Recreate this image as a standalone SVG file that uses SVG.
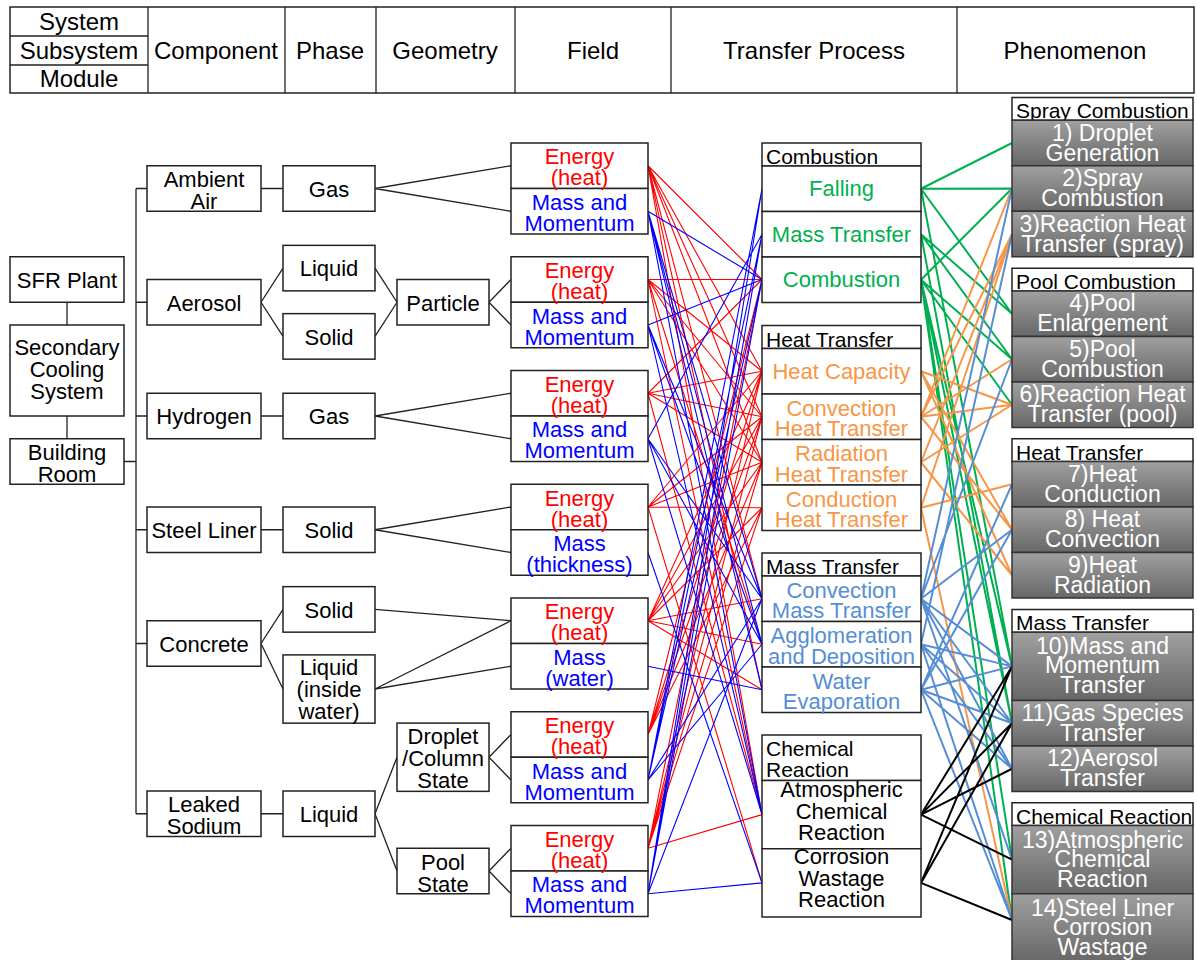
<svg xmlns="http://www.w3.org/2000/svg" width="1197" height="960" viewBox="0 0 1197 960">
<style>
.b{fill:#fff;stroke:#222;stroke-width:1.5}
.ph{fill:url(#g);stroke:#333;stroke-width:1.5}
text{font-family:"Liberation Sans",Arial,sans-serif;font-size:22px;text-anchor:middle;fill:#000}
.h{font-size:24px}
.ti{font-size:21px;text-anchor:start}
.pt{font-size:23px;fill:#fff}
.red{fill:#f00}.blu{fill:#00f}.grn{fill:#00b050}.org{fill:#f79646}.lb{fill:#558ed5}
.tr{stroke:#222;stroke-width:1.3;fill:none}
.lr{stroke:#f00;stroke-width:1.1;fill:none}
.lu{stroke:#00f;stroke-width:1.1;fill:none}
.lg{stroke:#00b050;stroke-width:2;fill:none}
.lo{stroke:#f79646;stroke-width:2;fill:none}
.lc{stroke:#558ed5;stroke-width:2;fill:none}
.lk{stroke:#000;stroke-width:2;fill:none}
</style>
<defs>
<linearGradient id="g" x1="0" y1="0" x2="0" y2="1"><stop offset="0" stop-color="#a0a0a0"/><stop offset="1" stop-color="#676767"/></linearGradient>
</defs>
<rect width="1197" height="960" fill="#fff"/>

<g id="header">
<rect class="b" x="10" y="7" width="1184" height="86"/>
<path class="tr" d="M148 7V93M285 7V93M376 7V93M515 7V93M671 7V93M957 7V93M10 36H148M10 65H148"/>
<text class="h" x="79" y="30">System</text>
<text class="h" x="79" y="59">Subsystem</text>
<text class="h" x="79" y="87">Module</text>
<text class="h" x="216" y="58.5">Component</text>
<text class="h" x="330" y="58.5">Phase</text>
<text class="h" x="445" y="58.5">Geometry</text>
<text class="h" x="593" y="58.5">Field</text>
<text class="h" x="814" y="58.5">Transfer Process</text>
<text class="h" x="1075" y="58.5">Phenomenon</text>
</g>

<g id="connectors">
<path class="tr" d="M67 302.25V325M67 416V438.75M124 461.5H136M136 188.5V813.75M136 188.5H147M136 302.25H147M136 416H147M136 529.75H147M136 643.5H147M136 813.75H147
M261 188.5H283M261 416H283M261 529.75H283M261 813.75H283
M261 302.25L283 268.1M261 302.25L283 336.4M375 268.1L397 302.25M375 336.4L397 302.25
M261 643.5L283 609.4M261 643.5L283 689M375 813.75L397 757.25M375 813.75L397 871
M375 188.5L511 165.75M375 188.5L511 211.25M489 302.25L511 279.5M489 302.25L511 325
M375 416L511 393.25M375 416L511 438.75M375 529.75L511 507M375 529.75L511 552.5
M375 609.4L511 620.75M375 689L511 620.75M375 689L511 666.25
M489 757.25L511 734.5M489 757.25L511 780M489 871L511 848.25M489 871L511 893.75"/>
<path class="lr" d="M648 165.75L762 279.5M648 165.75L762 371.25M648 165.75L762 416.75M648 165.75L762 462.25M648 165.75L762 598.75M648 165.75L762 689.75M648 165.75L762 814.6
M648 279.5L762 279.5M648 279.5L762 371.25M648 279.5L762 416.75M648 279.5L762 462.25M648 279.5L762 644.25M648 279.5L762 814.6
M648 393.25L762 279.5M648 393.25L762 371.25M648 393.25L762 416.75M648 393.25L762 462.25M648 393.25L762 814.6
M648 507L762 371.25M648 507L762 416.75M648 507L762 462.25M648 507L762 507.75M648 507L762 882.9
M648 620.75L762 371.25M648 620.75L762 416.75M648 620.75L762 462.25M648 620.75L762 507.75M648 620.75L762 598.75M648 620.75L762 644.25M648 620.75L762 689.75
M648 734.5L762 279.5M648 734.5L762 371.25M648 734.5L762 416.75M648 734.5L762 462.25M648 734.5L762 507.75
M648 848.25L762 279.5M648 848.25L762 371.25M648 848.25L762 416.75M648 848.25L762 462.25M648 848.25L762 507.75M648 848.25L762 814.6"/>
<path class="lu" d="M648 211.25L762 279.5M648 211.25L762 598.75M648 211.25L762 644.25M648 211.25L762 689.75M648 211.25L762 814.6
M648 325L762 279.5M648 325L762 598.75M648 325L762 644.25M648 325L762 814.6
M648 438.75L762 234.25M648 438.75L762 598.75M648 438.75L762 644.25M648 438.75L762 814.6
M648 552.5L762 882.9M648 666.25L762 689.75
M648 780L762 188.75M648 780L762 234.25M648 780L762 279.5M648 780L762 598.75M648 780L762 644.25
M648 893.75L762 188.75M648 893.75L762 234.25M648 893.75L762 279.5M648 893.75L762 598.75M648 893.75L762 882.9"/>
<path class="lg" d="M921 188.75L1012 143M921 188.75L1012 188.5M921 188.75L1012 313.75M921 188.75L1012 666.4
M921 234.25L1012 313.75M921 234.25L1012 359.25M921 234.25L1012 723.25
M921 279.75L1012 188.5M921 279.75L1012 359.25M921 279.75L1012 404.75M921 279.75L1012 666.4M921 279.75L1012 723.25M921 279.75L1012 859.6M921 279.75L1012 920"/>
<path class="lo" d="M921 371.25L1012 404.75M921 371.25L1012 529.75M921 371.25L1012 575.25
M921 416.75L1012 188.5M921 416.75L1012 234M921 416.75L1012 359.25M921 416.75L1012 404.75M921 416.75L1012 529.75
M921 462.25L1012 234M921 462.25L1012 404.75M921 462.25L1012 575.25
M921 507.75L1012 234M921 507.75L1012 484.25M921 507.75L1012 920"/>
<path class="lc" d="M921 598.75L1012 188.5M921 598.75L1012 359.25M921 598.75L1012 529.75M921 598.75L1012 666.4M921 598.75L1012 723.25M921 598.75L1012 768.75M921 598.75L1012 859.6
M921 644.25L1012 234M921 644.25L1012 666.4M921 644.25L1012 723.25M921 644.25L1012 768.75M921 644.25L1012 920
M921 689.75L1012 484.25M921 689.75L1012 529.75M921 689.75L1012 666.4M921 689.75L1012 723.25M921 689.75L1012 768.75M921 689.75L1012 920"/>
<path class="lk" d="M921 814.6L1012 666.4M921 814.6L1012 723.25M921 814.6L1012 768.75M921 814.6L1012 859.6
M921 882.9L1012 666.4M921 882.9L1012 723.25M921 882.9L1012 920"/>
</g>

<g id="sfr-plant"><rect class="b" x="10" y="256.75" width="114" height="45.5"/><text x="67" y="288">SFR Plant</text></g>
<g id="secondary-cooling"><rect class="b" x="10" y="325" width="114" height="91"/><text x="67" y="355">Secondary</text><text x="67" y="377">Cooling</text><text x="67" y="399">System</text></g>
<g id="building-room"><rect class="b" x="10" y="438.75" width="114" height="45.5"/><text x="67" y="460">Building</text><text x="67" y="481.5">Room</text></g>

<g id="ambient-air"><rect class="b" x="147" y="165.75" width="114" height="45.5"/><text x="204" y="187">Ambient</text><text x="204" y="209">Air</text></g>
<g id="aerosol"><rect class="b" x="147" y="279.5" width="114" height="45.5"/><text x="204" y="310.5">Aerosol</text></g>
<g id="hydrogen"><rect class="b" x="147" y="393.25" width="114" height="45.5"/><text x="204" y="424">Hydrogen</text></g>
<g id="steel-liner"><rect class="b" x="147" y="507" width="114" height="45.5"/><text x="204" y="538">Steel Liner</text></g>
<g id="concrete"><rect class="b" x="147" y="620.75" width="114" height="45.5"/><text x="204" y="651.5">Concrete</text></g>
<g id="leaked-sodium"><rect class="b" x="147" y="791" width="114" height="45.5"/><text x="204" y="812">Leaked</text><text x="204" y="834">Sodium</text></g>

<g id="gas-air"><rect class="b" x="283" y="165.75" width="92" height="45.5"/><text x="329" y="196.5">Gas</text></g>
<g id="liquid-aerosol"><rect class="b" x="283" y="245.35" width="92" height="45.5"/><text x="329" y="276">Liquid</text></g>
<g id="solid-aerosol"><rect class="b" x="283" y="313.65" width="92" height="45.5"/><text x="329" y="344.5">Solid</text></g>
<g id="gas-hydrogen"><rect class="b" x="283" y="393.25" width="92" height="45.5"/><text x="329" y="424">Gas</text></g>
<g id="solid-steel"><rect class="b" x="283" y="507" width="92" height="45.5"/><text x="329" y="538">Solid</text></g>
<g id="solid-concrete"><rect class="b" x="283" y="586.65" width="92" height="45.5"/><text x="329" y="617.5">Solid</text></g>
<g id="liquid-water"><rect class="b" x="283" y="654.9" width="92" height="68.25"/><text x="329" y="675">Liquid</text><text x="329" y="697">(inside</text><text x="329" y="719">water)</text></g>
<g id="liquid-sodium"><rect class="b" x="283" y="791" width="92" height="45.5"/><text x="329" y="822">Liquid</text></g>

<g id="particle"><rect class="b" x="397" y="279.5" width="92" height="45.5"/><text x="443" y="310.5">Particle</text></g>
<g id="droplet-state"><rect class="b" x="397" y="723.1" width="92" height="68.25"/><text x="443" y="744">Droplet</text><text x="443" y="766">/Column</text><text x="443" y="788">State</text></g>
<g id="pool-state"><rect class="b" x="397" y="848.25" width="92" height="45.5"/><text x="443" y="869.5">Pool</text><text x="443" y="891.5">State</text></g>

<g id="field-air"><rect class="b" x="511" y="143" width="137" height="45.5"/><rect class="b" x="511" y="188.5" width="137" height="45.5"/><text class="red" x="579.5" y="164.25">Energy</text><text class="red" x="579.5" y="185.25">(heat)</text><text class="blu" x="579.5" y="209.75">Mass and</text><text class="blu" x="579.5" y="230.75">Momentum</text></g>
<g id="field-aerosol"><rect class="b" x="511" y="256.75" width="137" height="45.5"/><rect class="b" x="511" y="302.25" width="137" height="45.5"/><text class="red" x="579.5" y="278">Energy</text><text class="red" x="579.5" y="299">(heat)</text><text class="blu" x="579.5" y="323.5">Mass and</text><text class="blu" x="579.5" y="344.5">Momentum</text></g>
<g id="field-hydrogen"><rect class="b" x="511" y="370.5" width="137" height="45.5"/><rect class="b" x="511" y="416" width="137" height="45.5"/><text class="red" x="579.5" y="391.75">Energy</text><text class="red" x="579.5" y="412.75">(heat)</text><text class="blu" x="579.5" y="437.25">Mass and</text><text class="blu" x="579.5" y="458.25">Momentum</text></g>
<g id="field-steel"><rect class="b" x="511" y="484.25" width="137" height="45.5"/><rect class="b" x="511" y="529.75" width="137" height="45.5"/><text class="red" x="579.5" y="505.5">Energy</text><text class="red" x="579.5" y="526.5">(heat)</text><text class="blu" x="579.5" y="551">Mass</text><text class="blu" x="579.5" y="572">(thickness)</text></g>
<g id="field-concrete"><rect class="b" x="511" y="598" width="137" height="45.5"/><rect class="b" x="511" y="643.5" width="137" height="45.5"/><text class="red" x="579.5" y="619.25">Energy</text><text class="red" x="579.5" y="640.25">(heat)</text><text class="blu" x="579.5" y="664.75">Mass</text><text class="blu" x="579.5" y="685.75">(water)</text></g>
<g id="field-droplet"><rect class="b" x="511" y="711.75" width="137" height="45.5"/><rect class="b" x="511" y="757.25" width="137" height="45.5"/><text class="red" x="579.5" y="733">Energy</text><text class="red" x="579.5" y="754">(heat)</text><text class="blu" x="579.5" y="778.5">Mass and</text><text class="blu" x="579.5" y="799.5">Momentum</text></g>
<g id="field-pool"><rect class="b" x="511" y="825.5" width="137" height="45.5"/><rect class="b" x="511" y="871" width="137" height="45.5"/><text class="red" x="579.5" y="846.75">Energy</text><text class="red" x="579.5" y="867.75">(heat)</text><text class="blu" x="579.5" y="892.25">Mass and</text><text class="blu" x="579.5" y="913.25">Momentum</text></g>

<g id="tp-combustion">
<rect class="b" x="762" y="143" width="159" height="23"/><text class="ti" x="766" y="164">Combustion</text>
<rect class="b" x="762" y="166" width="159" height="45.5"/><text class="grn" x="841.5" y="196">Falling</text>
<rect class="b" x="762" y="211.5" width="159" height="45.5"/><text class="grn" x="841.5" y="241.5">Mass Transfer</text>
<rect class="b" x="762" y="257" width="159" height="45.5"/><text class="grn" x="841.5" y="287">Combustion</text>
</g>
<g id="tp-heat">
<rect class="b" x="762" y="325.5" width="159" height="23"/><text class="ti" x="766" y="346.5">Heat Transfer</text>
<rect class="b" x="762" y="348.5" width="159" height="45.5"/><text class="org" x="841.5" y="378.5">Heat Capacity</text>
<rect class="b" x="762" y="394" width="159" height="45.5"/><text class="org" x="841.5" y="415.5">Convection</text><text class="org" x="841.5" y="436">Heat Transfer</text>
<rect class="b" x="762" y="439.5" width="159" height="45.5"/><text class="org" x="841.5" y="461">Radiation</text><text class="org" x="841.5" y="481.5">Heat Transfer</text>
<rect class="b" x="762" y="485" width="159" height="45.5"/><text class="org" x="841.5" y="506.5">Conduction</text><text class="org" x="841.5" y="527">Heat Transfer</text>
</g>
<g id="tp-mass">
<rect class="b" x="762" y="553" width="159" height="23"/><text class="ti" x="766" y="574">Mass Transfer</text>
<rect class="b" x="762" y="576" width="159" height="45.5"/><text class="lb" x="841.5" y="597.5">Convection</text><text class="lb" x="841.5" y="618">Mass Transfer</text>
<rect class="b" x="762" y="621.5" width="159" height="45.5"/><text class="lb" x="841.5" y="643">Agglomeration</text><text class="lb" x="841.5" y="663.5">and Deposition</text>
<rect class="b" x="762" y="667" width="159" height="45.5"/><text class="lb" x="841.5" y="688.5">Water</text><text class="lb" x="841.5" y="709">Evaporation</text>
</g>
<g id="tp-chemical">
<rect class="b" x="762" y="735" width="159" height="45.5"/><text class="ti" x="766" y="756">Chemical</text><text class="ti" x="766" y="777">Reaction</text>
<rect class="b" x="762" y="780.5" width="159" height="68.25"/><text x="841.5" y="797">Atmospheric</text><text x="841.5" y="818.5">Chemical</text><text x="841.5" y="840">Reaction</text>
<rect class="b" x="762" y="848.75" width="159" height="68.25"/><text x="841.5" y="864">Corrosion</text><text x="841.5" y="885.5">Wastage</text><text x="841.5" y="907">Reaction</text>
</g>

<g id="ph-spray">
<rect class="b" x="1012" y="97.5" width="181" height="22.75"/><text class="ti" x="1016" y="118">Spray Combustion</text>
<rect class="ph" x="1012" y="120.25" width="181" height="45.5"/><text class="pt" x="1102.5" y="140.5">1) Droplet</text><text class="pt" x="1102.5" y="160.5">Generation</text>
<rect class="ph" x="1012" y="165.75" width="181" height="45.5"/><text class="pt" x="1102.5" y="186">2)Spray</text><text class="pt" x="1102.5" y="206">Combustion</text>
<rect class="ph" x="1012" y="211.25" width="181" height="45.5"/><text class="pt" x="1102.5" y="231.5">3)Reaction Heat</text><text class="pt" x="1102.5" y="251.5">Transfer (spray)</text>
</g>
<g id="ph-pool">
<rect class="b" x="1012" y="268.25" width="181" height="22.75"/><text class="ti" x="1016" y="289">Pool Combustion</text>
<rect class="ph" x="1012" y="291" width="181" height="45.5"/><text class="pt" x="1102.5" y="311.25">4)Pool</text><text class="pt" x="1102.5" y="331.25">Enlargement</text>
<rect class="ph" x="1012" y="336.5" width="181" height="45.5"/><text class="pt" x="1102.5" y="356.75">5)Pool</text><text class="pt" x="1102.5" y="376.75">Combustion</text>
<rect class="ph" x="1012" y="382" width="181" height="45.5"/><text class="pt" x="1102.5" y="402.25">6)Reaction Heat</text><text class="pt" x="1102.5" y="422.25">Transfer (pool)</text>
</g>
<g id="ph-heat">
<rect class="b" x="1012" y="438.75" width="181" height="22.75"/><text class="ti" x="1016" y="459.5">Heat Transfer</text>
<rect class="ph" x="1012" y="461.5" width="181" height="45.5"/><text class="pt" x="1102.5" y="481.75">7)Heat</text><text class="pt" x="1102.5" y="501.75">Conduction</text>
<rect class="ph" x="1012" y="507" width="181" height="45.5"/><text class="pt" x="1102.5" y="527.25">8) Heat</text><text class="pt" x="1102.5" y="547.25">Convection</text>
<rect class="ph" x="1012" y="552.5" width="181" height="45.5"/><text class="pt" x="1102.5" y="572.75">9)Heat</text><text class="pt" x="1102.5" y="592.75">Radiation</text>
</g>
<g id="ph-mass">
<rect class="b" x="1012" y="609.5" width="181" height="22.75"/><text class="ti" x="1016" y="630">Mass Transfer</text>
<rect class="ph" x="1012" y="632.25" width="181" height="68.25"/><text class="pt" x="1102.5" y="653.5">10)Mass and</text><text class="pt" x="1102.5" y="673">Momentum</text><text class="pt" x="1102.5" y="692.5">Transfer</text>
<rect class="ph" x="1012" y="700.5" width="181" height="45.5"/><text class="pt" x="1102.5" y="720.75">11)Gas Species</text><text class="pt" x="1102.5" y="740.75">Transfer</text>
<rect class="ph" x="1012" y="746" width="181" height="45.5"/><text class="pt" x="1102.5" y="766.25">12)Aerosol</text><text class="pt" x="1102.5" y="786.25">Transfer</text>
</g>
<g id="ph-chemical">
<rect class="b" x="1012" y="802.75" width="181" height="22.75"/><text class="ti" x="1016" y="823.5">Chemical Reaction</text>
<rect class="ph" x="1012" y="825.5" width="181" height="68.25"/><text class="pt" x="1102.5" y="847.5">13)Atmospheric</text><text class="pt" x="1102.5" y="867">Chemical</text><text class="pt" x="1102.5" y="886.5">Reaction</text>
<rect class="ph" x="1012" y="893.75" width="181" height="68.25"/><text class="pt" x="1102.5" y="915.5">14)Steel Liner</text><text class="pt" x="1102.5" y="935">Corrosion</text><text class="pt" x="1102.5" y="954.5">Wastage</text>
</g>
</svg>
